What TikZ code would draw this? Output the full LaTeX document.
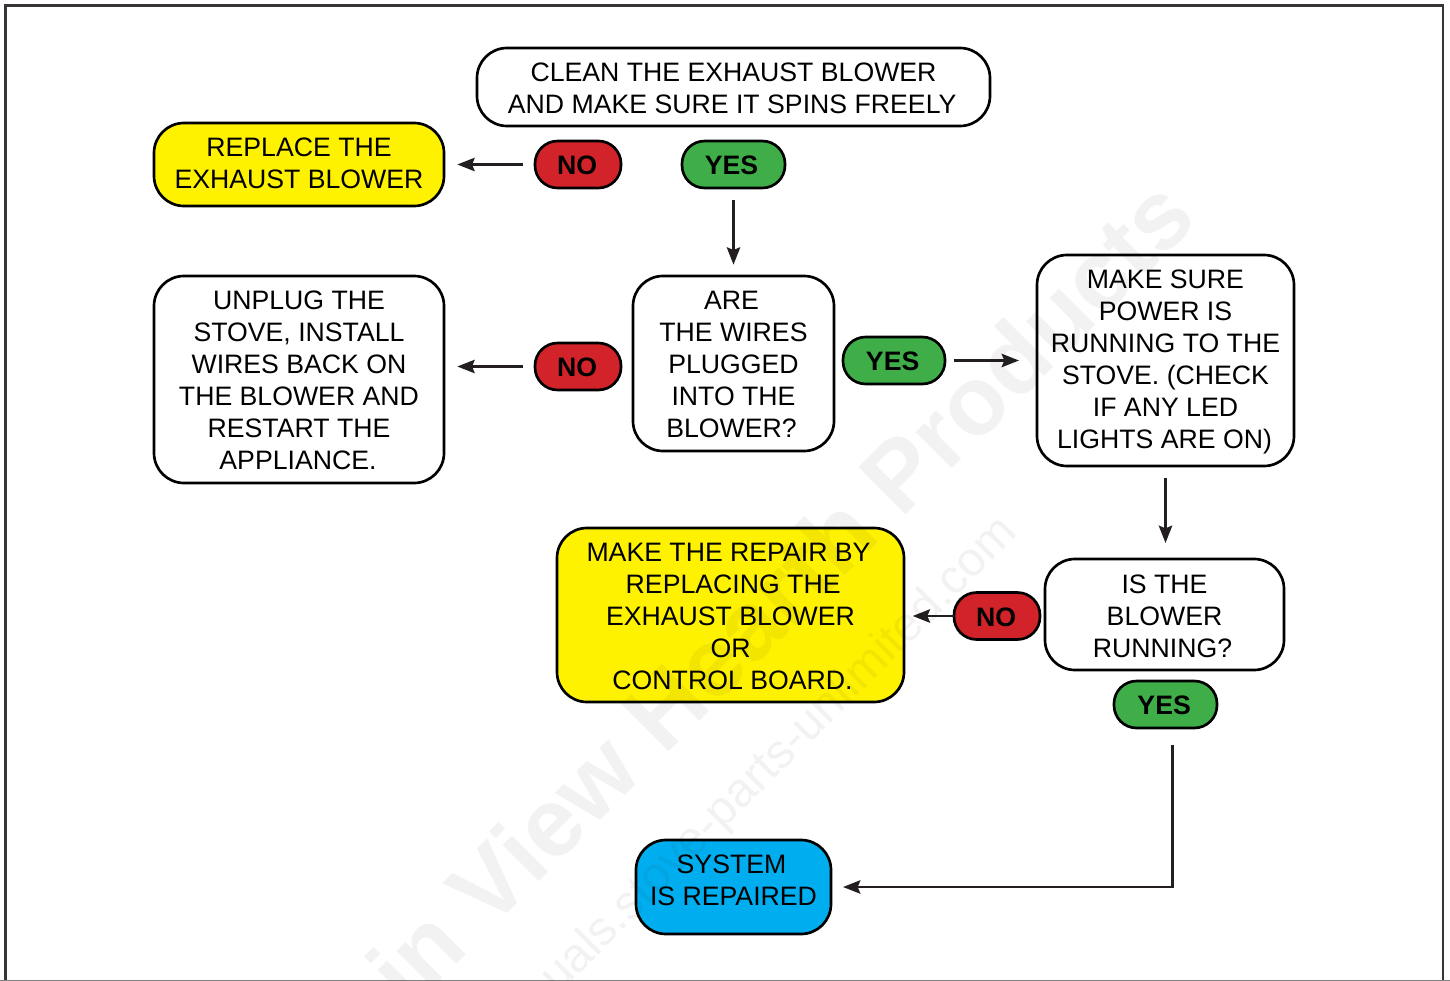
\documentclass[tikz,border=0pt]{standalone}
\usepackage{fontspec}
\setmainfont{Liberation Sans}
\usetikzlibrary{arrows.meta}
\definecolor{ink}{HTML}{231F20}
\definecolor{signred}{HTML}{D2232A}
\definecolor{signgreen}{HTML}{3FAE49}
\definecolor{signyellow}{HTML}{FFF200}
\definecolor{signblue}{HTML}{00AEEF}
% text block raised or lowered by #1 px without changing the node's box
\newcommand\txt[2]{\raisebox{\dimexpr #1pt*3/4\relax}[0pt][0pt]{\begin{tabular}[c]{@{}c@{}}#2\end{tabular}}}
\tikzset{
  x=0.75pt,y=-0.75pt,
  sized/.style 2 args={minimum width=#1*0.75pt,minimum height=#2*0.75pt},
  flowbox/.style={draw=black,line width=2pt,fill=white,rounded corners=22.5pt,inner sep=0pt,outer sep=0pt,
    font=\fontsize{20pt}{24pt}\selectfont,text=black},
  pill/.style={draw=black,line width=2pt,rounded corners=17pt,inner sep=0pt,outer sep=0pt,
    font=\fontsize{20pt}{24pt}\selectfont\bfseries,text=black},
  nopill/.style={pill,fill=signred,sized={86}{47}},
  yespill/.style={pill,fill=signgreen,sized={103}{47}},
  arr/.style={draw=ink,line width=1.9pt,-{Stealth[length=13pt,width=10pt,inset=2pt]}},
  mark1/.style={font=\fontsize{73pt}{73pt}\selectfont\bfseries,text=black,text opacity=.05,rotate=45,inner sep=0pt},
  mark2/.style={font=\fontsize{36pt}{36pt}\selectfont,text=black,text opacity=.05,rotate=45,inner sep=0pt},
}
\begin{document}
\begin{tikzpicture}
\useasboundingbox (0,0) rectangle (1450,981);
\fill[white] (0,0) rectangle (1450,981);
\draw[draw=ink!90,line width=1.6pt] (5.5,983) -- (5.5,5.5) -- (1443,5.5) -- (1443,983);
\draw[draw=gray,line width=1pt] (0,980.5) -- (1450,980.5);

\node[flowbox,sized={513}{78}] (clean) at (733.5,87) {\txt{-11}{CLEAN THE EXHAUST BLOWER\\\hspace{-2pt}AND MAKE SURE IT SPINS FREELY}};
\node[flowbox,fill=signyellow,sized={290}{83}] (replace) at (299,164.5) {\txt{-9}{REPLACE THE\\EXHAUST BLOWER}};
\node[nopill] (no1) at (578,164.5) {\txt{-11}{\hspace{-1.5pt}NO}};
\node[yespill] (yes1) at (733.5,164.5) {\txt{-11}{\hspace{-3pt}YES}};
\node[flowbox,sized={201}{175}] (wires) at (733.5,363.5) {\txt{-11}{\hspace{-3pt}ARE\\THE WIRES\\PLUGGED\\INTO THE\\\hspace{-3pt}BLOWER?}};
\node[flowbox,sized={290}{207}] (unplug) at (299,379.5) {\txt{-11}{UNPLUG THE\\STOVE, INSTALL\\WIRES BACK ON\\THE BLOWER AND\\RESTART THE\\\hspace{-1.5pt}APPLIANCE.}};
\node[nopill] (no2) at (578,366.5) {\txt{-11}{\hspace{-1.5pt}NO}};
\node[yespill,sized={102}{47}] (yes2) at (894,360.5) {\txt{-11}{\hspace{-2pt}YES}};
\node[flowbox,sized={257}{211}] (power) at (1165.5,360.5) {\txt{-9}{MAKE SURE\\POWER IS\\RUNNING TO THE\\STOVE. (CHECK\\IF ANY LED\\\hspace{-1.5pt}LIGHTS ARE ON)}};
\node[flowbox,sized={239}{111}] (running) at (1164.5,614.5) {\txt{-12}{IS THE\\BLOWER\\\hspace{-3pt}RUNNING?}};
\node[nopill] (no3) at (997,616) {\txt{-11}{\hspace{-1.5pt}NO}};
\node[yespill] (yes3) at (1165.5,704.5) {\txt{-11}{\hspace{-2pt}YES}};
\node[flowbox,fill=signyellow,sized={347}{174}] (repair) at (730.5,615) {\txt{-11}{\hspace{-3pt}MAKE THE REPAIR BY\\\hspace{4pt}REPLACING THE\\EXHAUST BLOWER\\OR\\\hspace{3pt}CONTROL BOARD.}};
\node[flowbox,fill=signblue,sized={195}{94}] (system) at (733.5,887) {\txt{-3}{\hspace{-3pt}SYSTEM\\IS REPAIRED}};

\coordinate (bend) at (1172.5,887);
\draw[arr,shorten <=9pt,shorten >=10pt] (no1) -- (no1 -| replace.east);
\draw[arr,shorten <=9pt,shorten >=8.5pt] (yes1) -- (wires);
\draw[arr,shorten <=9pt,shorten >=10pt] (no2.west) -- (no2.west -| unplug.east);
\draw[arr,shorten <=6.5pt,shorten >=13.5pt] (yes2.east) -- (yes2.east -| power.west);
\draw[arr,shorten <=9pt,shorten >=12pt] (power.south) -- (running.north -| power.south);
\draw[arr,shorten >=6.5pt] (no3.west) -- (no3.west -| repair.east);
\draw[arr,shorten >=9pt] (yes3.south -| bend) ++(0,17) -- (bend) -- (system.east |- bend);

\begin{scope}
\clip (0,0) rectangle (1450,981);
\node[mark1] (wm1) at (780,592) {in View Hearth Products};
\node[mark2] (wm2) at (747,789) {manuals.stove-parts-unlimited.com};
\end{scope}
\end{tikzpicture}
\end{document}
